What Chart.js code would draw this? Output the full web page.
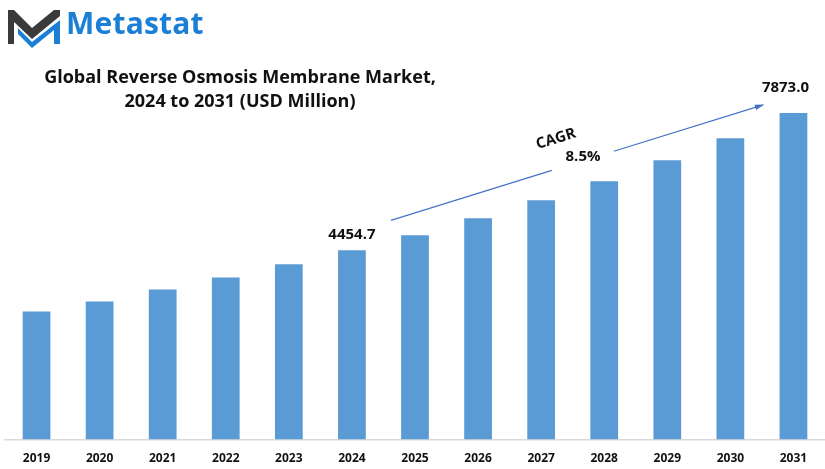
<!DOCTYPE html>
<html>
<head>
<meta charset="utf-8">
<script src="https://cdn.jsdelivr.net/npm/chart.js@4.4.1/dist/chart.umd.min.js"></script>
<style>
  html, body { margin: 0; padding: 0; background: #fff; }
  #wrap { position: relative; width: 825px; height: 469px; overflow: hidden; }
  #myChart { position: absolute; left: 0; top: 0; }
  .logo { position: absolute; left: 6px; top: 6px; }
  .brand {
    position: absolute; left: 66px; top: 2px;
    font: bold 30px "Open Sans", sans-serif; color: #1b7fd6; letter-spacing: 0.2px;
  }
  .title {
    position: absolute; left: 0; top: 64px; width: 480px; text-align: center;
    font: bold 18px "Open Sans", sans-serif; color: #111; line-height: 24px;
  }
</style>
</head>
<body>
<div id="wrap">
  <canvas id="myChart" width="825" height="469"></canvas>
  <svg class="logo" width="58" height="42" viewBox="0 0 58 42">
    <polygon points="2,4 8,4 26,22 48,4 54,4 54,10 26,33 8,16 8,38 2,38" fill="#3a3a3a"/>
    <polygon points="12,22 26,36 54,14 54,38 48,38 48,24 26,42 12,28" fill="#1b7fd6"/>
  </svg>
  <div class="brand">Metastat</div>
  <div class="title">Global Reverse Osmosis Membrane Market,<br>2024 to 2031 (USD Million)</div>
</div>
<script>
const years = ["2019", "2020", "2021", "2022", "2023", "2024", "2025",
  "2026", "2027", "2028", "2029", "2030", "2031"];
const marketSize = [2933, 3182, 3482, 3781, 4105, 4454.7, 4829,
  5253, 5702, 6176, 6700, 7249, 7873.0];
const cagrText = ["CAGR", "8.5%"];
const axisFloor = -260;

// value labels + CAGR arrow drawn on top of the bars
const annotations = {
  id: "annotations",
  afterDraw(chart) {
    const ctx = chart.ctx;
    const x = chart.scales.x;
    const y = chart.scales.y;
    const first = 5;
    const last = years.length - 1;

    ctx.save();
    ctx.fillStyle = "#111";
    ctx.font = "bold 15px 'Open Sans', sans-serif";
    ctx.textAlign = "center";
    ctx.textBaseline = "middle";
    ctx.fillText(marketSize[first].toFixed(1), x.getPixelForValue(first), y.getPixelForValue(marketSize[first]) - 16);
    ctx.fillText(marketSize[last].toFixed(1), x.getPixelForValue(last) - 8, y.getPixelForValue(marketSize[last]) - 25);

    // arrow line, broken where the CAGR text sits
    const x0 = x.getPixelForValue(first) + 39;
    const y0 = y.getPixelForValue(marketSize[first]) - 30;
    const x1 = x.getPixelForValue(last) - 31;
    const y1 = y.getPixelForValue(marketSize[last]) - 8;
    const at = (t) => [x0 + (x1 - x0) * t, y0 + (y1 - y0) * t];
    const gapA = at(0.433);
    const gapB = at(0.60);
    ctx.strokeStyle = "#4472c4";
    ctx.lineWidth = 1.2;
    ctx.beginPath();
    ctx.moveTo(x0, y0);
    ctx.lineTo(gapA[0], gapA[1]);
    ctx.moveTo(gapB[0], gapB[1]);
    ctx.lineTo(x1, y1);
    ctx.stroke();
    const ang = Math.atan2(y1 - y0, x1 - x0);
    ctx.fillStyle = "#4472c4";
    ctx.beginPath();
    ctx.moveTo(x1 + 2, y1 - 0.6);
    ctx.lineTo(x1 - 8 * Math.cos(ang - 0.35), y1 - 8 * Math.sin(ang - 0.35));
    ctx.lineTo(x1 - 8 * Math.cos(ang + 0.35), y1 - 8 * Math.sin(ang + 0.35));
    ctx.closePath();
    ctx.fill();

    ctx.fillStyle = "#111";
    ctx.translate(556, 139);
    ctx.rotate(ang);
    ctx.fillText(cagrText[0], 0, 0);
    ctx.restore();

    ctx.save();
    ctx.fillStyle = "#111";
    ctx.font = "bold 15px 'Open Sans', sans-serif";
    ctx.textAlign = "center";
    ctx.textBaseline = "middle";
    ctx.fillText(cagrText[1], 583, 157);
    ctx.restore();
  },
};

const chart = new Chart(document.getElementById("myChart"), {
  type: "bar",
  data: {
    labels: years,
    datasets: [
      {
        label: "Market size",
        data: marketSize,
        base: axisFloor,
        backgroundColor: "#5b9bd5",
        barPercentage: 0.88,
        categoryPercentage: 0.5,
      },
    ],
  },
  options: {
    responsive: false,
    animation: false,
    layout: { padding: { left: 5, right: 0, top: 60, bottom: -9 } },
    plugins: { legend: { display: false }, tooltip: { enabled: false } },
    scales: {
      x: {
        grid: { display: false, drawTicks: false },
        border: { color: "#d9d9d9", width: 1.5 },
        ticks: {
          color: "#111",
          padding: 12,
          font: { family: "'Open Sans', sans-serif", size: 12, weight: "bold" },
        },
      },
      y: { display: false, min: axisFloor, max: 9196 },
    },
  },
  plugins: [annotations],
});
</script>
</body>
</html>
